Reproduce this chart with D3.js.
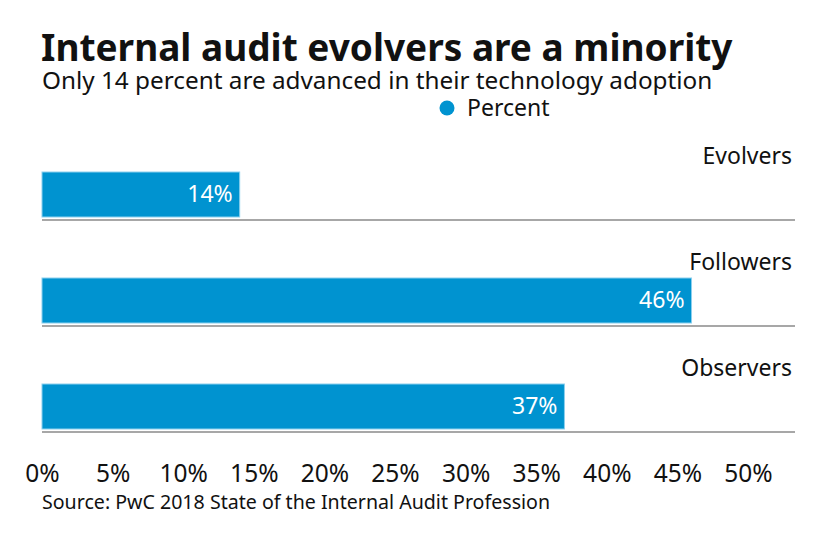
<!DOCTYPE html>
<html>
<head>
<meta charset="utf-8">
<script src="https://cdn.jsdelivr.net/npm/d3@7"></script>
<style>
  body { margin: 0; background: #fff; }
  svg { display: block; font-family: "Noto Sans", Lato, sans-serif; }
</style>
</head>
<body>
<svg id="chart" width="840" height="547"></svg>
<script>
// chart data
const categories = ['Evolvers', 'Followers', 'Observers'];
const percentValues = [14, 46, 37];
const tickValues = [0, 5, 10, 15, 20, 25, 30, 35, 40, 45, 50];
const seriesName = 'Percent';

const titleText = 'Internal audit evolvers are a minority';
const subtitleText = 'Only 14 percent are advanced in their technology adoption';
const sourceText = 'Source: PwC 2018 State of the Internal Audit Profession';

const barColor = '#0093d0';
const lineColor = '#8a8a8a';

const svg = d3.select('#chart');

const x = d3.scaleLinear()
	.domain([0, 50])
	.range([42, 748]);

const y = d3.scaleBand()
	.domain(categories)
	.range([114, 432]);

const rows = categories.map((name, i) => ({name, value: percentValues[i]}));

// title block
svg.append('text')
	.attr('x', 41).attr('y', 61)
	.attr('font-size', 37)
	.attr('font-weight', 700)
	.attr('fill', '#111')
	.text(titleText);

svg.append('text')
	.attr('x', 42).attr('y', 88.5)
	.attr('font-size', 24.3)
	.attr('fill', '#111')
	.text(subtitleText);

// legend
const legend = svg.append('g').attr('transform', 'translate(447,108)');
legend.append('circle').attr('r', 7.5).attr('fill', barColor);
legend.append('text')
	.attr('x', 20).attr('y', 7.5)
	.attr('font-size', 23)
	.attr('fill', '#111')
	.text(seriesName);

// rows
const row = svg.append('g').selectAll('g')
	.data(rows)
	.join('g')
	.attr('transform', d => `translate(0,${y(d.name)})`);

row.append('text')
	.attr('x', 792).attr('y', 50)
	.attr('text-anchor', 'end')
	.attr('font-size', 23)
	.attr('fill', '#111')
	.text(d => d.name);

row.append('rect')
	.attr('x', x(0))
	.attr('y', 58)
	.attr('width', d => x(d.value) - x(0))
	.attr('height', 45)
	.attr('fill', barColor)
	.attr('stroke', '#8cd0ee')
	.attr('stroke-width', 1);

row.append('text')
	.attr('x', d => x(d.value) - 7)
	.attr('y', 88)
	.attr('text-anchor', 'end')
	.attr('font-size', 23)
	.attr('fill', '#fff')
	.text(d => d.value + '%');

row.append('line')
	.attr('x1', x(0)).attr('x2', 795)
	.attr('y1', y.bandwidth()).attr('y2', y.bandwidth())
	.attr('stroke', lineColor)
	.attr('stroke-width', 1.5);

// x axis
const axis = svg.append('g')
	.attr('transform', 'translate(0,465)')
	.call(d3.axisBottom(x).tickValues(tickValues).tickFormat(d => d + '%').tickSize(0));

axis.select('.domain').remove();
axis.selectAll('text')
	.attr('font-family', '"Noto Sans", Lato, sans-serif')
	.attr('font-size', 24.5)
	.attr('fill', '#111')
	.attr('dy', 0).attr('y', 17);

svg.append('text')
	.attr('x', 42).attr('y', 509)
	.attr('font-size', 19.6)
	.attr('fill', '#111')
	.text(sourceText);
</script>
</body>
</html>
